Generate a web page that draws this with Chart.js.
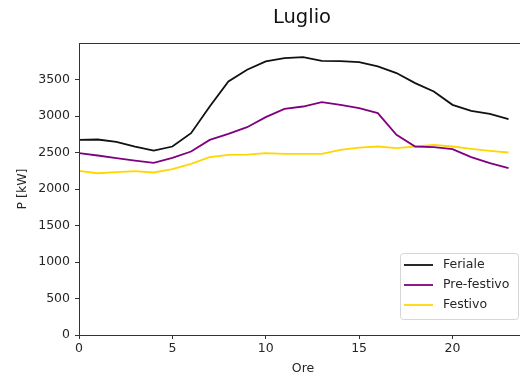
<!DOCTYPE html>
<html>
<head>
<meta charset="utf-8">
<script src="https://cdn.jsdelivr.net/npm/chart.js@4/dist/chart.umd.min.js"></script>
<style>
  html, body { margin: 0; padding: 0; background: #fff; overflow: hidden; }
  #wrap { width: 520px; height: 378px; overflow: hidden; }
  canvas { display: block; }
</style>
</head>
<body>
<div id="wrap"><canvas id="c" width="540" height="378"></canvas></div>
<script>
// Hourly power profile for July (kW)
const hours = [0,1,2,3,4,5,6,7,8,9,10,11,12,13,14,15,16,17,18,19,20,21,22,23];
const feriale = [2673,2678,2646,2582,2527,2582,2765,3130,3473,3633,3747,3793,3806,3756,3752,3738,3679,3588,3451,3336,3153,3071,3030,2957];
const preFestivo = [2491,2459,2422,2390,2358,2427,2513,2673,2756,2847,2984,3098,3130,3190,3153,3108,3040,2742,2582,2573,2546,2436,2354,2285];
const festivo = [2248,2216,2230,2244,2226,2271,2344,2436,2468,2472,2491,2481,2481,2481,2536,2568,2582,2560,2582,2605,2582,2550,2523,2500];
const xTicks = [0,5,10,15,20];
const yTicks = [0,500,1000,1500,2000,2500,3000,3500];

const seriesNames = ['Feriale','Pre-festivo','Festivo'];
const seriesColors = ['#111111','#800080','#FFD700'];
const seriesValues = [feriale, preFestivo, festivo];

const FONT = 'DejaVu Sans';
const TEXT = '#262626';

const toPoints = vals => hours.map((h, i) => ({ x: h, y: vals[i] }));

// Frame, title, axis titles and legend box
const decor = {
  id: 'decor',
  afterDraw(chart) {
    const { ctx, chartArea: a } = chart;
    ctx.save();
    ctx.strokeStyle = '#333';
    ctx.lineWidth = 1;
    ctx.strokeRect(Math.round(a.left) + 0.5, Math.round(a.top) + 0.5,
                   Math.round(a.right - a.left), Math.round(a.bottom - a.top));

    ctx.fillStyle = '#111';
    ctx.textAlign = 'center';
    ctx.textBaseline = 'alphabetic';
    ctx.font = `19.5px "${FONT}"`;
    ctx.fillText('Luglio', 302, 23);

    ctx.textBaseline = 'middle';
    ctx.fillStyle = TEXT;
    ctx.font = `12.5px "${FONT}"`;
    ctx.fillText('Ore', 303, 369);
    ctx.save();
    ctx.translate(23, 189);
    ctx.rotate(-Math.PI / 2);
    ctx.fillText('P [kW]', 0, 0);
    ctx.restore();

    // legend
    const bx = 400.5, by = 253.5, bw = 118, bh = 66, r = 3;
    ctx.beginPath();
    ctx.moveTo(bx + r, by);
    ctx.lineTo(bx + bw - r, by);
    ctx.arcTo(bx + bw, by, bx + bw, by + r, r);
    ctx.lineTo(bx + bw, by + bh - r);
    ctx.arcTo(bx + bw, by + bh, bx + bw - r, by + bh, r);
    ctx.lineTo(bx + r, by + bh);
    ctx.arcTo(bx, by + bh, bx, by + bh - r, r);
    ctx.lineTo(bx, by + r);
    ctx.arcTo(bx, by, bx + r, by, r);
    ctx.closePath();
    ctx.fillStyle = 'rgba(255,255,255,0.85)';
    ctx.fill();
    ctx.strokeStyle = '#d6d6d6';
    ctx.stroke();

    ctx.textAlign = 'left';
    ctx.font = `12.5px "${FONT}"`;
    seriesNames.forEach((name, i) => {
      const y = 265 + i * 20;
      ctx.strokeStyle = seriesColors[i];
      ctx.lineWidth = 1.8;
      ctx.beginPath();
      ctx.moveTo(404, y);
      ctx.lineTo(433, y);
      ctx.stroke();
      ctx.fillStyle = TEXT;
      ctx.fillText(name, 443, y);
    });
    ctx.restore();
  }
};

new Chart(document.getElementById('c'), {
  type: 'line',
  data: {
    datasets: seriesNames.map((name, i) => ({
      label: name,
      data: toPoints(seriesValues[i]),
      borderColor: seriesColors[i],
      backgroundColor: seriesColors[i],
      borderWidth: 1.8,
      pointRadius: 0,
      tension: 0,
      fill: false
    }))
  },
  options: {
    responsive: false,
    devicePixelRatio: 1,
    animation: false,
    layout: { padding: { top: 43, right: 10, left: 0, bottom: 0 } },
    plugins: { legend: { display: false }, title: { display: false }, tooltip: { enabled: false } },
    scales: {
      x: {
        type: 'linear',
        min: 0,
        max: 24.15,
        afterFit(s) { s.height = 43; },
        afterBuildTicks(s) { s.ticks = xTicks.map(v => ({ value: v })); },
        grid: { drawOnChartArea: false, drawTicks: true, tickLength: 4, color: '#333' },
        border: { color: '#333' },
        ticks: { color: TEXT, font: { family: FONT, size: 12.5 }, padding: 2, maxRotation: 0,
                 callback: v => String(v) }
      },
      y: {
        min: 0,
        max: 4000,
        afterFit(s) { s.width = 79; },
        afterBuildTicks(s) { s.ticks = yTicks.map(v => ({ value: v })); },
        grid: { drawOnChartArea: false, drawTicks: true, tickLength: 4, color: '#333' },
        border: { color: '#333' },
        ticks: { color: TEXT, font: { family: FONT, size: 12.5 }, padding: 5,
                 callback: v => String(v) }
      }
    }
  },
  plugins: [decor]
});
</script>
</body>
</html>
